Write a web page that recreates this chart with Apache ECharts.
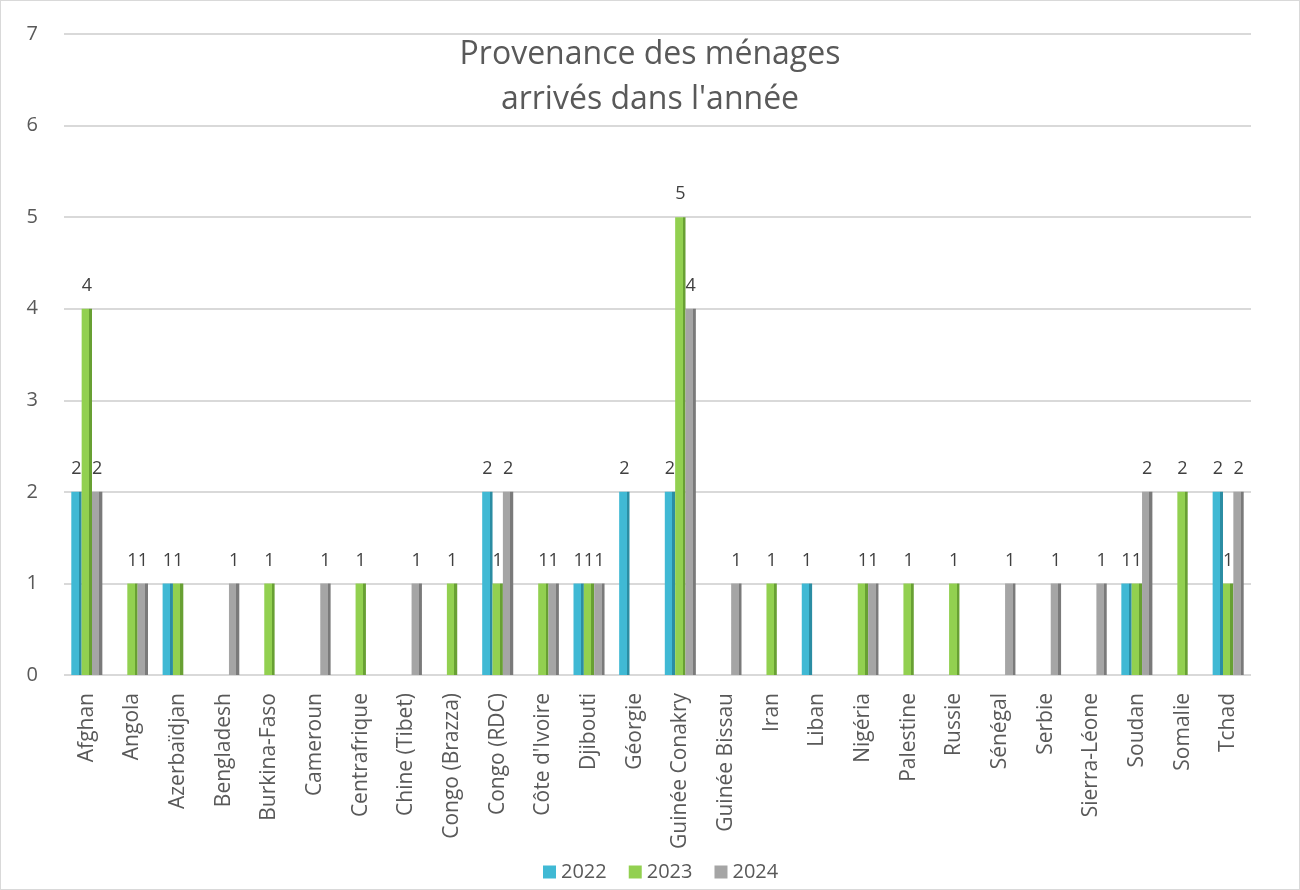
<!DOCTYPE html>
<html>
<head>
<meta charset="utf-8">
<script src="https://cdn.jsdelivr.net/npm/echarts@6/dist/echarts.min.js"></script>
<style>
  html, body { margin: 0; padding: 0; background: #fff; }
  #main { width: 1300px; height: 890px; box-sizing: border-box; border: 1px solid #d9d9d9; }
</style>
</head>
<body>
<div id="main"></div>
<script>
const countries = ["Afghan", "Angola", "Azerbaïdjan", "Bengladesh", "Burkina-Faso", "Cameroun",
  "Centrafrique", "Chine (Tibet)", "Congo (Brazza)", "Congo (RDC)", "Côte d'Ivoire", "Djibouti",
  "Géorgie", "Guinée Conakry", "Guinée Bissau", "Iran", "Liban", "Nigéria", "Palestine", "Russie",
  "Sénégal", "Serbie", "Sierra-Léone", "Soudan", "Somalie", "Tchad"]

const v2022 = [2, null, 1, null, null, null, null, null, null, 2, null, 1, 2, 2, null, null, 1, null, null, null, null, null, null, 1, null, 2]
const v2023 = [4, 1, 1, null, 1, null, 1, null, 1, 1, 1, 1, null, 5, null, 1, null, 1, 1, 1, null, null, null, 1, 2, 1]
const v2024 = [2, 1, null, 1, null, 1, null, 1, null, 2, 1, 1, null, 4, 1, null, null, 1, null, null, 1, 1, 1, 2, null, 2]

const yTicks = [0, 1, 2, 3, 4, 5, 6, 7]

const txt = "#595959"
const font = "'Open Sans', sans-serif"

// fake 3D side face with a hard colour stop
function face(base, side) {
  return new echarts.graphic.LinearGradient(0, 0, 1, 0, [
    { offset: 0, color: base },
    { offset: 0.72, color: base },
    { offset: 0.72, color: side },
    { offset: 1, color: side }
  ])
}

function makeSeries(name, data, base, side) {
  return {
    name: name,
    type: "bar",
    data: data,
    barGap: "0%",
    barCategoryGap: "32%",
    itemStyle: { color: face(base, side) },
    label: {
      show: true,
      position: "top",
      distance: 14,
      color: "#404040",
      fontSize: 18,
      fontFamily: font
    }
  }
}

const myChart = echarts.init(document.getElementById("main"))

myChart.setOption({
  animation: false,
  color: ["#40B9D4", "#92D050", "#A5A5A5"],
  title: {
    text: "Provenance des ménages\narrivés dans l'année",
    left: "center",
    top: 26,
    textStyle: {
      color: txt,
      fontSize: 32,
      fontWeight: "normal",
      fontFamily: font,
      lineHeight: 45
    }
  },
  legend: {
    bottom: 2,
    left: 537,
    itemWidth: 13,
    itemHeight: 13,
    itemGap: 22,
    icon: "rect",
    textStyle: { color: txt, fontSize: 20, fontFamily: font },
    data: [
      { name: "2022", itemStyle: { color: "#40B9D4" } },
      { name: "2023", itemStyle: { color: "#92D050" } },
      { name: "2024", itemStyle: { color: "#A5A5A5" } }
    ]
  },
  grid: { left: 63, right: 48, top: 33, bottom: 214 },
  xAxis: {
    type: "category",
    data: countries,
    axisLine: { show: false },
    axisTick: { show: false },
    axisLabel: {
      rotate: 90,
      interval: 0,
      margin: 18,
      color: txt,
      fontSize: 21,
      fontFamily: font
    }
  },
  yAxis: {
    type: "value",
    min: yTicks[0],
    max: yTicks[yTicks.length - 1],
    interval: 1,
    axisLine: { show: false },
    axisTick: { show: false },
    axisLabel: { color: txt, fontSize: 20, fontFamily: font, margin: 26 },
    splitLine: { lineStyle: { color: "#d9d9d9", width: 2 } }
  },
  series: [
    makeSeries("2022", v2022, "#40B9D4", "#2B8DA3"),
    makeSeries("2023", v2023, "#92D050", "#68A033"),
    makeSeries("2024", v2024, "#A5A5A5", "#7A7A7A")
  ]
})
</script>
</body>
</html>
